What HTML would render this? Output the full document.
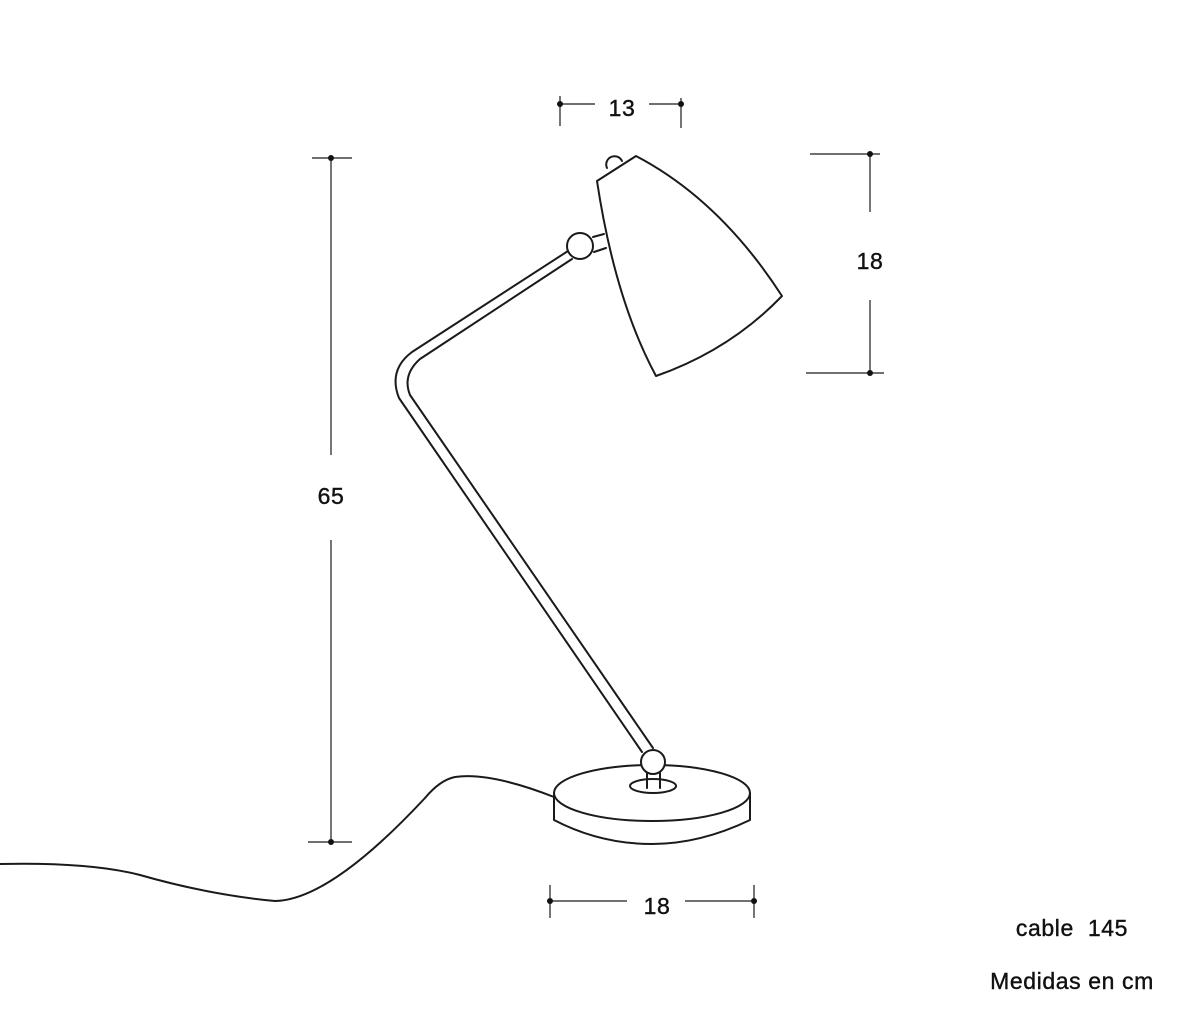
<!DOCTYPE html>
<html><head><meta charset="utf-8"><style>
body{margin:0;background:#fff;width:1200px;height:1028px;overflow:hidden}
svg{display:block}
text{font-family:"Liberation Sans",sans-serif;font-size:23px;fill:#111;text-anchor:middle;dominant-baseline:central;letter-spacing:0.6px;stroke:#111;stroke-width:0.4}
</style></head><body>
<svg width="1200" height="1028" viewBox="0 0 1200 1028">
<g fill="none" stroke="#1a1a1a" stroke-width="2" stroke-linecap="round" stroke-linejoin="round">
<path d="M607,168 A8,8 0 1 1 622,161"/>
<path d="M597,181 L636,156 Q720,200 782,296 Q730,350 656,376 Q615,300 597,181 Z"/>
<line x1="593" y1="237" x2="604" y2="234"/>
<line x1="594" y1="252" x2="606" y2="248"/>
<circle cx="580" cy="246" r="13" fill="#fff"/>
<path d="M568,251 L412,352 Q388,370 399,398 L642,752"/>
<path d="M572,259 L420,359 Q402,375 410,395 L653,748"/>
<path d="M554,797 Q490,772 455,777 Q440,780 425,798 Q330,900 275,901 Q210,895 140,875 Q90,862 0,864"/>
<path d="M554,820 L554,793 A98,28 0 1 1 750,793 L750,820 Q700,844 652,844 Q600,844 554,820 Z" fill="#fff"/>
<path d="M554,793 A98,28 0 0 0 750,793"/>
<ellipse cx="653" cy="786" rx="23" ry="7" fill="#fff"/>
<line x1="647" y1="772" x2="647" y2="788"/>
<line x1="660" y1="772" x2="660" y2="788"/>
<circle cx="653" cy="762" r="12" fill="#fff"/>
</g>
<g stroke="#1a1a1a" stroke-width="1.2" fill="none">
<line x1="331" y1="158" x2="331" y2="455"/><line x1="331" y1="540" x2="331" y2="842"/>
<line x1="312" y1="158" x2="352" y2="158"/><line x1="308" y1="842" x2="352" y2="842"/>
<line x1="560" y1="104" x2="595" y2="104"/><line x1="649" y1="104" x2="681" y2="104"/>
<line x1="560" y1="96" x2="560" y2="126"/><line x1="681" y1="98" x2="681" y2="128"/>
<line x1="870" y1="154" x2="870" y2="212"/><line x1="870" y1="300" x2="870" y2="373"/>
<line x1="810" y1="154" x2="880" y2="154"/><line x1="806" y1="373" x2="884" y2="373"/>
<line x1="550" y1="901" x2="627" y2="901"/><line x1="685" y1="901" x2="754" y2="901"/>
<line x1="550" y1="885" x2="550" y2="918"/><line x1="754" y1="885" x2="754" y2="918"/>
</g>
<g fill="#111">
<circle cx="331" cy="158" r="3"/><circle cx="331" cy="842" r="3"/>
<circle cx="560" cy="104" r="3"/><circle cx="681" cy="104" r="3"/>
<circle cx="870" cy="154" r="3"/><circle cx="870" cy="373" r="3"/>
<circle cx="550" cy="901" r="3"/><circle cx="754" cy="901" r="3"/>
</g>
<text x="331" y="496">65</text>
<text x="622" y="108">13</text>
<text x="870" y="261">18</text>
<text x="657" y="906">18</text>
<text x="1072" y="928">cable&#160; 145</text>
<text x="1072" y="981">Medidas en cm</text>
</svg>
</body></html>
